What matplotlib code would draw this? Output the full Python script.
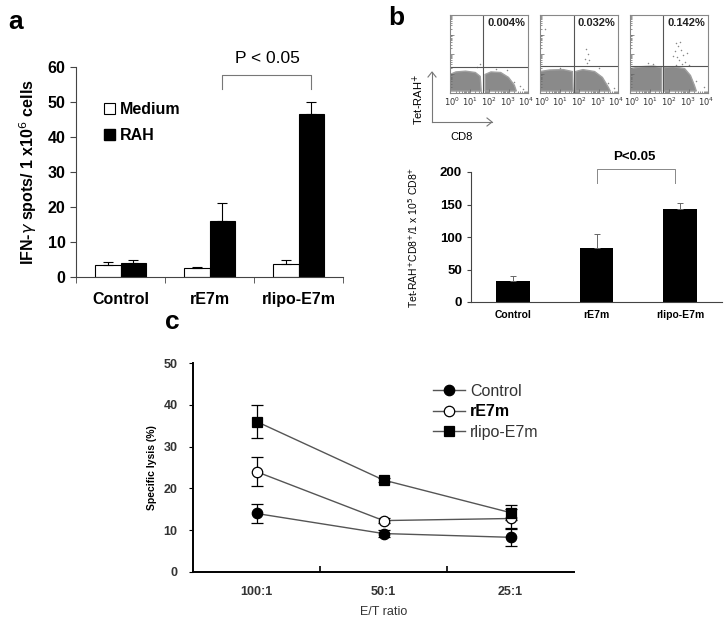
import numpy as np
import matplotlib.pyplot as plt
from matplotlib.patches import Patch, Polygon
from matplotlib.lines import Line2D

plt.rcParams['font.family'] = ['Liberation Sans', 'DejaVu Sans']

W, H = 726, 622

# panel a: ELISPOT
groups = ['Control', 'rE7m', 'rlipo-E7m']
medium = [3.3, 2.5, 3.6]
medium_err = [0.9, 0.5, 1.2]
rah = [4.1, 16.0, 46.7]
rah_err = [0.9, 5.2, 3.3]

# panel b top: tetramer dot plots (log10 units)
flow_pct = ['0.004%', '0.032%', '0.142%']
gate_x = [1.7, 1.76, 1.68]
gate_y = [1.32, 1.38, 1.38]
cloud1 = [[(0, 0.1), (0, 0.95), (0.3, 1.08), (0.8, 1.12), (1.3, 1.05), (1.55, 0.85), (1.6, 0.1)],
          [(1.8, 0.1), (1.8, 0.95), (2.1, 1.08), (2.6, 1.05), (3.0, 0.8), (3.3, 0.4), (3.4, 0.1)]]
cloud2 = [[(0, 0.1), (0, 1.1), (0.5, 1.18), (1.2, 1.2), (1.66, 1.1), (1.7, 0.1)],
          [(1.82, 0.1), (1.82, 1.1), (2.2, 1.2), (2.8, 1.1), (3.2, 0.8), (3.5, 0.3), (3.6, 0.1)]]
cloud3 = [[(0, 0.1), (0, 1.25), (0.6, 1.35), (1.2, 1.38), (1.62, 1.3), (1.62, 0.1)],
          [(1.74, 0.1), (1.74, 1.3), (2.2, 1.35), (2.8, 1.25), (3.1, 0.9), (3.3, 0.4), (3.4, 0.1)]]
dots1_x = [1.4, 1.55, 2.35, 2.9, 3.3, 3.6, 3.75]
dots1_y = [1.35, 1.5, 1.25, 1.2, 0.55, 0.35, 0.2]
dots2_x = [0.26, 2.35, 2.45, 2.3, 2.5, 2.4, 3.0, 3.5, 3.8, 1.0]
dots2_y = [3.26, 2.25, 2.0, 1.75, 1.7, 1.55, 1.3, 0.5, 0.25, 1.3]
dots3_x = [2.35, 2.45, 2.55, 2.3, 2.6, 2.7, 2.4, 2.5, 2.8, 2.2, 2.65, 2.35, 3.0, 0.9, 1.2, 3.4, 3.8, 2.9]
dots3_y = [2.55, 2.4, 2.6, 2.15, 2.2, 1.95, 1.85, 1.7, 1.6, 1.9, 1.5, 1.45, 1.45, 1.55, 1.5, 0.6, 0.3, 2.05]
decades = [0, 1, 2, 3, 4]

# panel b bottom
tet = [32, 83, 143]
tet_err = [8, 22, 10]

# panel c: CTL assay
ratios = ['100:1', '50:1', '25:1']
lysis_control = [14.0, 9.2, 8.3]
lysis_control_err = [2.3, 0.8, 2.1]
lysis_re7m = [24.0, 12.3, 12.8]
lysis_re7m_err = [3.5, 0.6, 2.3]
lysis_rlipo = [36.0, 22.0, 14.2]
lysis_rlipo_err = [3.9, 0.5, 1.8]


def px_axes(l, t, r, b):
    return fig.add_axes([l / W, 1 - b / H, (r - l) / W, (b - t) / H])


fig = plt.figure(figsize=(W / 100, H / 100), dpi=100)

# ---------- panel a ----------
ax = px_axes(76, 67, 343, 277)
x = np.arange(len(groups))
bw = 0.29
ax.bar(x - bw / 2, medium, bw, color='white', edgecolor='black', lw=0.8)
ax.bar(x + bw / 2, rah, bw, color='black', edgecolor='black', lw=0.8)
ax.errorbar(x - bw / 2, medium, yerr=[np.zeros(3), medium_err], fmt='none',
            ecolor='black', elinewidth=0.8, capsize=3.5, capthick=0.8)
ax.errorbar(x + bw / 2, rah, yerr=[np.zeros(3), rah_err], fmt='none',
            ecolor='black', elinewidth=0.8, capsize=3.5, capthick=0.8)
ax.set_xlim(-0.5, 2.5)
ax.set_ylim(0, 60)
ax.set_yticks(range(0, 61, 10))
ax.set_xticks(x)
ax.set_xticklabels(groups, fontsize=11.5, fontweight='bold')
ax.set_xticks([-0.5, 0.5, 1.5, 2.5], minor=True)
ax.tick_params(axis='x', which='major', length=0, pad=11)
ax.tick_params(axis='x', which='minor', length=4, direction='out', color='#444')
ax.tick_params(axis='y', length=4, labelsize=11.5, color='#444')
for t in ax.get_yticklabels():
    t.set_fontweight('bold')
for s in ['top', 'right']:
    ax.spines[s].set_visible(False)
for s in ['left', 'bottom']:
    ax.spines[s].set_color('#444')
ax.set_ylabel('IFN-$\\gamma$ spots/ 1 x10$^6$ cells', fontsize=11.5,
              fontweight='bold', labelpad=6)
ax.plot([1 + bw / 2, 1 + bw / 2, 2 + bw / 2, 2 + bw / 2], [53.8, 57.8, 57.8, 53.8],
        color='#777', lw=0.8, clip_on=False)
ax.text(1.65, 60.3, 'P < 0.05', ha='center', va='bottom', fontsize=12.5)
ax.legend(handles=[Patch(facecolor='white', edgecolor='black', lw=0.8),
                   Patch(facecolor='black', edgecolor='black')],
          labels=['Medium', 'RAH'], loc='upper left', bbox_to_anchor=(0.075, 0.87),
          frameon=False, borderpad=0, handlelength=0.7, handleheight=0.7,
          handletextpad=0.3, labelspacing=0.7, prop={'size': 11.5, 'weight': 'bold'})
fig.text(8 / W, 1 - 22 / H, 'a', fontsize=19, fontweight='bold', va='center')

# ---------- panel b, dot plots ----------
clouds = [cloud1, cloud2, cloud3]
dots = [(dots1_x, dots1_y), (dots2_x, dots2_y), (dots3_x, dots3_y)]
lefts = [450, 540, 630]
minor = [k + np.log10(m) for k in range(4) for m in range(2, 10)]
nudge = {0: 0.1, 4: -0.1}
for i in range(3):
    fa = px_axes(lefts[i], 15, lefts[i] + 78, 93)
    for poly in clouds[i]:
        fa.add_patch(Polygon(poly, closed=True, facecolor='#8a8a8a', edgecolor='#a0a0a0', lw=1.0))
    fa.scatter(dots[i][0], dots[i][1], s=1.2, color='#888', lw=0)
    fa.axvline(gate_x[i], color='#555', lw=0.8)
    fa.axhline(gate_y[i], color='#555', lw=0.8)
    fa.set_xlim(0, 4)
    fa.set_ylim(0, 4)
    fa.set_xticks(decades)
    fa.set_xticklabels([])
    for k in decades:
        fa.text(k + nudge.get(k, 0), -0.12, '$10^{%d}$' % k, ha='center', va='top',
                fontsize=6, color='#333', clip_on=False)
    fa.set_yticks(decades)
    fa.set_yticklabels([])
    fa.set_xticks(minor, minor=True)
    fa.set_yticks(minor, minor=True)
    fa.tick_params(which='both', direction='in', color='#666', width=0.5, pad=1.5)
    fa.tick_params(which='major', length=3)
    fa.tick_params(which='minor', length=1.5)
    for s in fa.spines.values():
        s.set_color('#888')
        s.set_linewidth(0.8)
    fa.text(3.85, 3.6, flow_pct[i], ha='right', va='center', fontsize=8, fontweight='bold', color='#222')

fig.add_artist(Line2D([432 / W, 432 / W], [1 - 122 / H, 1 - 72 / H], color='#777', lw=0.8))
fig.add_artist(Line2D([432 / W, 492 / W], [1 - 122 / H, 1 - 122 / H], color='#777', lw=0.8))
fig.add_artist(Line2D([428 / W, 432 / W, 436 / W], [1 - 77 / H, 1 - 72 / H, 1 - 77 / H], color='#777', lw=0.8))
fig.add_artist(Line2D([487 / W, 492 / W, 487 / W], [1 - 118 / H, 1 - 122 / H, 1 - 126 / H], color='#777', lw=0.8))
fig.text(418 / W, 1 - 100 / H, 'Tet-RAH$^{+}$', rotation=90, ha='center', va='center', fontsize=8)
fig.text(462 / W, 1 - 137 / H, 'CD8', ha='center', va='center', fontsize=8)
fig.text(388 / W, 1 - 18 / H, 'b', fontsize=19, fontweight='bold', va='center')

# ---------- panel b, bars ----------
bx = px_axes(471, 172, 722, 302)
bx.bar(x, tet, 0.4, color='black')
bx.errorbar(x, tet, yerr=[np.zeros(3), tet_err], fmt='none', ecolor='#666',
            elinewidth=0.7, capsize=2, capthick=0.7)
bx.set_xlim(-0.5, 2.5)
bx.set_ylim(0, 200)
bx.set_yticks(range(0, 201, 50))
bx.set_xticks(x)
bx.set_xticklabels(groups, fontsize=7.5, fontweight='bold')
bx.tick_params(axis='x', length=0, pad=6)
bx.tick_params(axis='y', length=3, labelsize=9.5, color='#444')
for t in bx.get_yticklabels():
    t.set_fontweight('bold')
for s in ['top', 'right']:
    bx.spines[s].set_visible(False)
for s in ['left', 'bottom']:
    bx.spines[s].set_color('#444')
bx.set_ylabel('Tet-RAH$^{+}$CD8$^{+}$/1 x 10$^{5}$ CD8$^{+}$', fontsize=7.5)
bx.yaxis.set_label_coords((420 - 471) / 251, 0.5)
bx.plot([1, 1, 1.94, 1.94], [183, 204.6, 204.6, 183], color='#888', lw=0.7, clip_on=False)
bx.text(1.45, 214, 'P<0.05', ha='center', va='bottom', fontsize=9.5, fontweight='bold')

# ---------- panel c ----------
cx = px_axes(193, 363, 574, 572)
series = [(lysis_control, lysis_control_err, 'o', 'black', 'Control'),
          (lysis_re7m, lysis_re7m_err, 'o', 'white', 'rE7m'),
          (lysis_rlipo, lysis_rlipo_err, 's', 'black', 'rlipo-E7m')]
for vals, err, m, fc, lab in series:
    cx.errorbar(x, vals, yerr=err, fmt='none', ecolor='black', elinewidth=0.9,
                capsize=4, capthick=0.9, zorder=2)
    cx.plot(x, vals, color='#555', lw=1.0, marker=m, markersize=7.5 if m == 'o' else 7.8,
            markerfacecolor=fc, markeredgecolor='black', markeredgewidth=0.9,
            label=lab, zorder=3)
cx.set_xlim(-0.5, 2.5)
cx.set_ylim(0, 50)
cx.set_yticks(range(0, 51, 10))
cx.set_xticks(x)
cx.set_xticklabels(ratios, fontsize=9, fontweight='bold', color='#333')
cx.set_xticks([0.5, 1.5], minor=True)
cx.tick_params(axis='x', which='major', length=0, pad=10)
cx.tick_params(axis='x', which='minor', length=4, direction='in', width=1.2)
cx.tick_params(axis='y', length=3, labelsize=9, labelcolor='#333', pad=8)
for t in cx.get_yticklabels():
    t.set_fontweight('bold')
for s in ['top', 'right']:
    cx.spines[s].set_visible(False)
for s in ['left', 'bottom']:
    cx.spines[s].set_linewidth(1.4)
cx.set_ylabel('Specific lysis (%)', fontsize=7.5, fontweight='bold')
cx.yaxis.set_label_coords((157 - 193) / 381, 0.5)
cx.set_xlabel('E/T ratio', fontsize=9, color='#333')
cx.xaxis.set_label_coords(0.5, (572 - 606) / 209)
leg = cx.legend(loc='upper left', bbox_to_anchor=(0.61, 0.94), frameon=False,
                borderpad=0, handlelength=2.0, handletextpad=0.3, labelspacing=0.35,
                fontsize=11.5)
for t in leg.get_texts():
    t.set_color('#333')
leg.get_texts()[1].set_fontweight('bold')
leg.get_texts()[1].set_color('black')
fig.text(165 / W, 1 - 322 / H, 'c', fontsize=19, fontweight='bold', va='center')

fig.savefig('out.png', dpi=100)
